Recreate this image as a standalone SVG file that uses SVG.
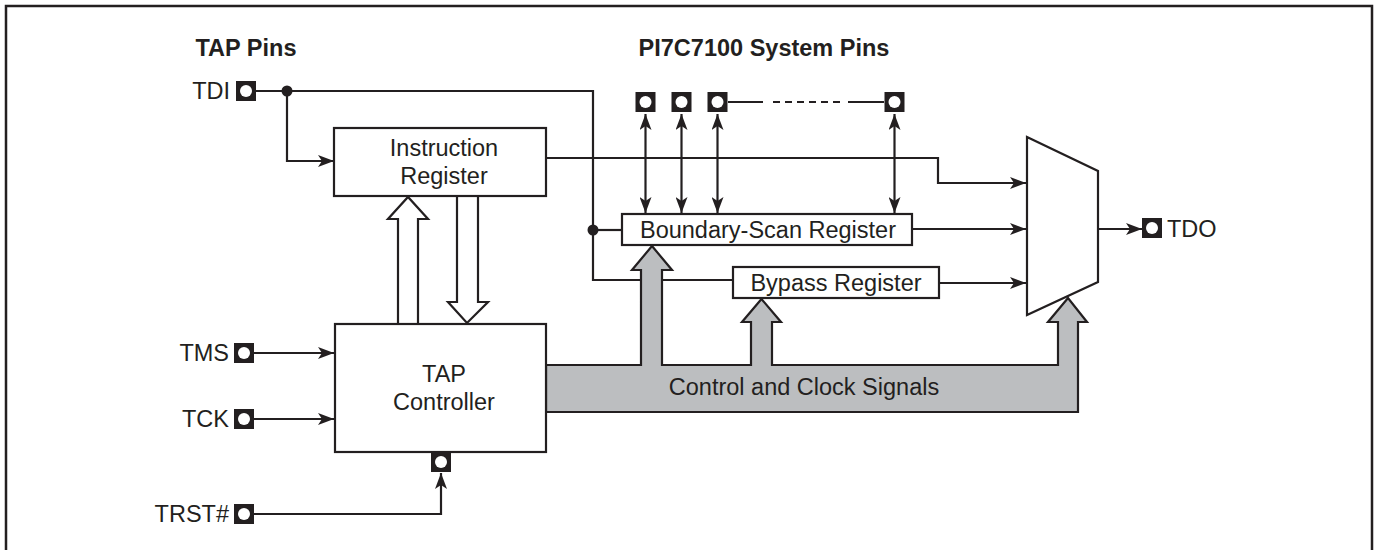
<svg xmlns="http://www.w3.org/2000/svg" width="1376" height="550" viewBox="0 0 1376 550">
<style>
text{font-family:"Liberation Sans",Arial,sans-serif;fill:#231f20;font-size:23.5px}
.t{font-weight:bold;font-size:23.5px}
.box{fill:#fff;stroke:#231f20;stroke-width:2.2}
.ln{fill:none;stroke:#231f20;stroke-width:2.2}
.pin{fill:#231f20}
.pc{fill:#fff}
.bus{fill:#bcbec0;stroke:#231f20;stroke-width:2.2}
.hol{fill:#fff;stroke:#231f20;stroke-width:2.2}
</style>
<defs>
<marker id="ah" viewBox="0 0 16 12" refX="16" refY="6" markerWidth="16" markerHeight="12" markerUnits="userSpaceOnUse" orient="auto-start-reverse">
<path d="M0,0 L16,6 L0,12 L4,6 Z" fill="#231f20"/>
</marker>
<g id="p"><rect x="-10" y="-10" width="20" height="20" class="pin"/><circle r="6" class="pc"/></g>
</defs>
<rect width="1376" height="550" fill="#fff"/>
<path d="M6,552 V6 H1372 V552" fill="none" stroke="#231f20" stroke-width="2.5"/>
<text class="t" x="246" y="56" text-anchor="middle">TAP Pins</text>
<text class="t" x="764" y="56" text-anchor="middle">PI7C7100 System Pins</text>

<g id="connectors">
<path class="ln" d="M256,91 H593 V280 H733"/>
<path class="ln" d="M287,91 V161 H334" marker-end="url(#ah)"/>
<path class="ln" d="M593,230 H622"/>
<path class="ln" d="M546,158 H938 V183 H1026" marker-end="url(#ah)"/>
<path class="ln" d="M912,229 H1026" marker-end="url(#ah)"/>
<path class="ln" d="M939,283 H1026" marker-end="url(#ah)"/>
<path class="ln" d="M1098,229 H1142" marker-end="url(#ah)"/>
<path class="ln" d="M254,353 H334" marker-end="url(#ah)"/>
<path class="ln" d="M254,419 H334" marker-end="url(#ah)"/>
<path class="ln" d="M254,514 H441 V473" marker-end="url(#ah)"/>
<path class="ln" d="M645.5,114 V213" marker-start="url(#ah)" marker-end="url(#ah)"/>
<path class="ln" d="M681.5,114 V213" marker-start="url(#ah)" marker-end="url(#ah)"/>
<path class="ln" d="M717.5,114 V213" marker-start="url(#ah)" marker-end="url(#ah)"/>
<path class="ln" d="M894.5,114 V213" marker-start="url(#ah)" marker-end="url(#ah)"/>
<path class="ln" d="M728,102 H763 M848,102 H884"/>
<path class="ln" d="M773,102 H840" stroke-dasharray="7,5"/>
<circle cx="287" cy="91" r="5.5" fill="#231f20"/>
<circle cx="593" cy="230" r="5.5" fill="#231f20"/>
<polygon class="hol" points="398,324 398,219 388,219 408,197 428,219 418,219 418,324"/>
<polygon class="hol" points="457,196 457,302 448,302 467,323 488,302 478,302 478,196"/>
<polygon class="bus" points="546,365 641,365 641,270 632,270 652,246 672,270 662,270 662,365 751,365 751,322 742,322 761.5,299 781,322 772,322 772,365 1058,365 1058,322 1048,322 1068,298 1087,322 1078,322 1078,412 546,412"/>
<text x="804" y="395" text-anchor="middle">Control and Clock Signals</text>
</g>

<g id="tdi"><use href="#p" x="246" y="91"/><text x="230" y="99" text-anchor="end">TDI</text></g>
<g id="tms"><use href="#p" x="244" y="353"/><text x="229" y="361" text-anchor="end">TMS</text></g>
<g id="tck"><use href="#p" x="244" y="419"/><text x="229" y="427" text-anchor="end">TCK</text></g>
<g id="trst"><use href="#p" x="244" y="514"/><text x="229" y="522" text-anchor="end">TRST#</text></g>
<g id="tdo"><use href="#p" x="1152" y="228"/><text x="1167" y="237">TDO</text></g>
<g id="sys-pins">
<use href="#p" x="645.5" y="102"/><use href="#p" x="681.5" y="102"/><use href="#p" x="717.5" y="102"/><use href="#p" x="894.5" y="102"/>
</g>
<g id="ir"><rect class="box" x="334" y="128" width="212" height="68"/>
<text x="444" y="156" text-anchor="middle">Instruction</text><text x="444" y="184" text-anchor="middle">Register</text></g>
<g id="bsr"><rect class="box" x="622" y="214" width="290" height="31"/>
<text x="768" y="238" text-anchor="middle">Boundary-Scan Register</text></g>
<g id="bypass"><rect class="box" x="733" y="267" width="206" height="31"/>
<text x="836" y="291" text-anchor="middle">Bypass Register</text></g>
<g id="tapc"><rect class="box" x="335" y="324" width="211" height="128"/>
<text x="444" y="382" text-anchor="middle">TAP</text><text x="444" y="410" text-anchor="middle">Controller</text></g>
<g id="trst-in"><use href="#p" x="441" y="462"/></g>
<g id="mux"><polygon class="box" points="1027,137 1098,171 1098,282 1027,315"/></g>
</svg>
